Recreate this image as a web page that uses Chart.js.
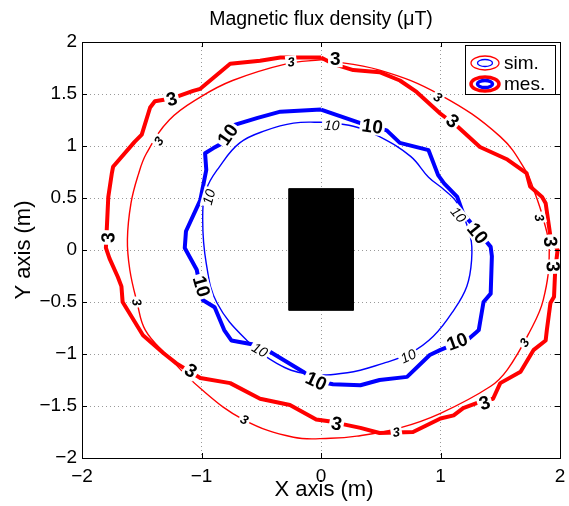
<!DOCTYPE html>
<html>
<head>
<meta charset="utf-8">
<script src="https://cdn.jsdelivr.net/npm/chart.js@4"></script>
<style>
  body { margin: 0; background: #fff; }
  #wrap { width: 569px; height: 506px; }
</style>
</head>
<body>
<div id="wrap"><canvas id="myChart"></canvas></div>
<script>
// 3 uT contour, simulated (thin red)
let sim3X = [0, -0.29, -0.74, -1.01, -1.27, -1.46, -1.53, -1.59, -1.62, -1.60, -1.54, -1.47, -1.29, -1.01, -0.65, -0.23, 0.08, 0.30, 0.66, 1.00, 1.42, 1.56, 1.74, 1.86, 1.91, 1.86, 1.78, 1.72, 1.50, 1.00, 0.49, 0];
let sim3Y = [1.83, 1.79, 1.63, 1.47, 1.25, 0.93, 0.72, 0.45, 0.10, -0.19, -0.50, -0.77, -1.01, -1.33, -1.63, -1.80, -1.81, -1.79, -1.71, -1.57, -1.31, -1.15, -0.80, -0.48, 0, 0.30, 0.58, 0.75, 1.09, 1.49, 1.73, 1.83];

// 3 uT contour, measured (thick red)
let mes3X = [0, -0.34, -0.51, -0.76, -1.01, -1.07, -1.24, -1.39, -1.43, -1.50, -1.56, -1.74, -1.75, -1.78, -1.80, -1.77, -1.70, -1.67, -1.66, -1.49, -1.32, -1.21, -1.01, -0.76, -0.51, -0.26, -0.04, 0.08, 0.33, 0.49, 0.77, 1.00, 1.11, 1.19, 1.33, 1.44, 1.50, 1.67, 1.78, 1.88, 1.89, 1.92, 1.95, 1.96, 1.98, 1.92, 1.88, 1.85, 1.75, 1.72, 1.56, 1.33, 1.14, 1.00, 0.80, 0.66, 0.49, 0.27, 0.10, 0];
let mes3Y = [1.85, 1.85, 1.82, 1.79, 1.55, 1.53, 1.46, 1.43, 1.37, 1.11, 1.04, 0.80, 0.74, 0.51, 0.02, -0.08, -0.26, -0.35, -0.50, -0.82, -0.99, -1.09, -1.23, -1.28, -1.43, -1.49, -1.63, -1.65, -1.71, -1.76, -1.75, -1.62, -1.59, -1.52, -1.46, -1.43, -1.28, -1.17, -0.96, -0.87, -0.77, -0.51, -0.45, -0.19, 0, 0.13, 0.45, 0.51, 0.61, 0.74, 0.87, 0.99, 1.19, 1.31, 1.52, 1.63, 1.71, 1.73, 1.79, 1.85];

// 10 uT contour, simulated (thin blue)
let sim10X = [0, -0.23, -0.46, -0.68, -0.85, -0.96, -0.99, -0.96, -0.87, -0.62, -0.37, -0.12, 0.22, 0.52, 0.75, 0.94, 1.11, 1.22, 1.26, 1.25, 1.14, 1.03, 0.90, 0.75, 0.49, 0.27, 0];
let sim10Y = [1.23, 1.22, 1.15, 1.03, 0.80, 0.58, 0.29, -0.13, -0.51, -0.87, -1.09, -1.19, -1.18, -1.09, -0.99, -0.83, -0.58, -0.35, -0.10, 0.13, 0.45, 0.58, 0.70, 0.90, 1.09, 1.19, 1.23];

// 10 uT contour, measured (thick blue)
let mes10X = [0, -0.34, -0.53, -0.73, -0.82, -0.90, -0.97, -0.96, -1.01, -1.13, -1.14, -1.04, -0.99, -0.89, -0.81, -0.75, -0.51, -0.15, -0.04, 0.10, 0.33, 0.49, 0.72, 0.91, 1.00, 1.17, 1.22, 1.30, 1.32, 1.36, 1.42, 1.43, 1.42, 1.19, 1.14, 1.03, 0.98, 0.90, 0.66, 0.55, 0.33, 0];
let mes10Y = [1.35, 1.33, 1.27, 1.20, 1.03, 0.98, 0.93, 0.77, 0.48, 0.18, 0.02, -0.19, -0.48, -0.55, -0.77, -0.87, -0.92, -1.17, -1.26, -1.29, -1.30, -1.25, -1.22, -1.01, -0.96, -0.88, -0.87, -0.79, -0.77, -0.50, -0.42, -0.06, 0.03, 0.35, 0.51, 0.64, 0.72, 0.96, 1.03, 1.15, 1.22, 1.35];

// source block (black rectangle)
let blockX = [-0.27, 0.27, 0.27, -0.27, -0.27];
let blockY = [0.59, 0.59, -0.58, -0.58, 0.59];

// axis ticks
let xTicks = [-2, -1, 0, 1, 2];
let yTicks = [-2, -1.5, -1, -0.5, 0, 0.5, 1, 1.5, 2];

// contour label anchors: [x, y, angle in degrees]
let mes3Labels = [[0.12, 1.84, 0], [-1.25, 1.45, -15], [-1.78, 0.12, -88], [-1.09, -1.16, 33], [0.13, -1.67, 11], [1.37, -1.47, -18], [1.92, 0.08, 85], [1.94, -0.16, 88], [1.10, 1.24, 39]];
let sim3Labels = [[-0.25, 1.81, -7], [-1.36, 1.05, -55], [-1.54, -0.50, 78], [-0.64, -1.63, 26], [0.63, -1.75, -8], [1.70, -0.89, -56], [1.83, 0.31, 76], [0.98, 1.47, 32]];
let mes10Labels = [[-0.78, 1.11, -55], [0.43, 1.19, 8], [1.31, 0.16, 51], [1.14, -0.88, -20], [-0.04, -1.26, 25], [-1.00, -0.35, 74]];
let sim10Labels = [[0.09, 1.20, 3], [-0.94, 0.51, -75], [1.15, 0.34, 50], [0.73, -1.02, -25], [-0.51, -0.96, 30]];

const FONT = "'Liberation Sans', Arial, Helvetica, sans-serif";

function pts(xs, ys) {
  return xs.map((x, i) => ({ x: x, y: ys[i] }));
}

function fmt(v) {
  return String(v).replace('-', '\u2212');
}

// contour labels, MATLAB clabel style
const contourLabels = {
  id: 'contourLabels',
  afterDatasetsDraw(chart) {
    const ctx = chart.ctx;
    const xs = chart.scales.x, ys = chart.scales.y;
    function put(list, text, font) {
      list.forEach(l => {
        ctx.save();
        ctx.translate(xs.getPixelForValue(l[0]), ys.getPixelForValue(l[1]));
        ctx.rotate(l[2] * Math.PI / 180);
        ctx.font = font;
        ctx.textAlign = 'center';
        ctx.textBaseline = 'middle';
        const w = ctx.measureText(text).width;
        const h = parseInt(font.match(/(\d+)px/)[1]) * 0.8;
        ctx.fillStyle = '#fff';
        ctx.fillRect(-w / 2 - 2, -h / 2 - 1, w + 4, h + 2);
        ctx.fillStyle = '#000';
        ctx.fillText(text, 0, 1);
        ctx.restore();
      });
    }
    put(sim3Labels, '3', 'italic bold 13px ' + FONT);
    put(sim10Labels, '10', 'italic 14px ' + FONT);
    put(mes3Labels, '3', 'bold 19px ' + FONT);
    put(mes10Labels, '10', 'bold 19px ' + FONT);
  }
};

// frame, inner ticks, titles and legend
const frame = {
  id: 'frame',
  afterDraw(chart) {
    const ctx = chart.ctx;
    const a = chart.chartArea;
    const xs = chart.scales.x, ys = chart.scales.y;
    ctx.save();
    ctx.strokeStyle = '#000';
    ctx.lineWidth = 1;
    ctx.strokeRect(a.left + 0.5, a.top + 0.5, a.right - a.left, a.bottom - a.top);
    ctx.beginPath();
    xTicks.forEach(v => {
      const p = Math.round(xs.getPixelForValue(v)) + 0.5;
      ctx.moveTo(p, a.bottom); ctx.lineTo(p, a.bottom - 5);
      ctx.moveTo(p, a.top); ctx.lineTo(p, a.top + 5);
    });
    yTicks.forEach(v => {
      const p = Math.round(ys.getPixelForValue(v)) + 0.5;
      ctx.moveTo(a.left, p); ctx.lineTo(a.left + 5, p);
      ctx.moveTo(a.right, p); ctx.lineTo(a.right - 5, p);
    });
    ctx.stroke();

    // titles
    ctx.fillStyle = '#000';
    ctx.textAlign = 'center';
    ctx.textBaseline = 'alphabetic';
    ctx.font = '19.5px ' + FONT;
    ctx.fillText('Magnetic flux density (\u03bcT)', (a.left + a.right) / 2, 25);
    ctx.font = '22px ' + FONT;
    ctx.fillText('X axis (m)', (a.left + a.right) / 2 + 3, 496);
    ctx.save();
    ctx.translate(30, 250);
    ctx.rotate(-Math.PI / 2);
    ctx.fillText('Y axis (m)', 0, 0);
    ctx.restore();

    // legend
    const lx = 465.5, ly = 45.5, lw = 90, lh = 49;
    ctx.fillStyle = '#fff';
    ctx.fillRect(lx, ly, lw, lh);
    ctx.strokeStyle = '#000';
    ctx.lineWidth = 1;
    ctx.strokeRect(lx, ly, lw, lh);
    const rows = [['sim.', 63, 1.3], ['mes.', 84, 3.5]];
    rows.forEach(r => {
      ctx.lineWidth = r[2];
      ctx.strokeStyle = '#ff0000';
      ctx.beginPath();
      ctx.ellipse(485, r[1], 14, 7, 0, 0, Math.PI * 2);
      ctx.stroke();
      ctx.strokeStyle = '#0000ff';
      ctx.beginPath();
      ctx.ellipse(485, r[1], 7.5, 3.5, 0, 0, Math.PI * 2);
      ctx.stroke();
      ctx.fillStyle = '#000';
      ctx.font = '19px ' + FONT;
      ctx.textAlign = 'left';
      ctx.textBaseline = 'middle';
      ctx.fillText(r[0], 504, r[1] + 1);
    });
    ctx.restore();
  }
};

new Chart("myChart", {
  type: "scatter",
  data: {
    datasets: [
      { data: pts(blockX, blockY), showLine: true, fill: 'shape', backgroundColor: '#000', borderColor: '#000', borderWidth: 1, pointRadius: 0, tension: 0 },
      { data: pts(sim3X, sim3Y), showLine: true, borderColor: '#ff0000', borderWidth: 1.4, pointRadius: 0, tension: 0.4 },
      { data: pts(sim10X, sim10Y), showLine: true, borderColor: '#0000ff', borderWidth: 1.4, pointRadius: 0, tension: 0.4 },
      { data: pts(mes3X, mes3Y), showLine: true, borderColor: '#ff0000', borderWidth: 4, pointRadius: 0, tension: 0, borderJoinStyle: 'round' },
      { data: pts(mes10X, mes10Y), showLine: true, borderColor: '#0000ff', borderWidth: 4, pointRadius: 0, tension: 0, borderJoinStyle: 'round' }
    ]
  },
  options: {
    responsive: true,
    maintainAspectRatio: false,
    animation: false,
    layout: { padding: { left: 0, top: 42, right: 9, bottom: 0 } },
    plugins: {
      legend: { display: false },
      tooltip: { enabled: false }
    },
    scales: {
      x: {
        min: -2, max: 2,
        afterFit(s) { s.height = 48; s.paddingLeft = 0; s.paddingRight = 0; },
        afterBuildTicks(s) { s.ticks = xTicks.map(v => ({ value: v })); },
        ticks: { callback: v => fmt(v), font: { size: 19, family: FONT }, color: '#000', padding: 7, maxRotation: 0 },
        grid: { color: '#999', drawTicks: false },
        border: { display: false, dash: [1, 3] }
      },
      y: {
        min: -2, max: 2,
        afterFit(s) { s.width = 82; s.paddingTop = 0; s.paddingBottom = 0; },
        afterBuildTicks(s) { s.ticks = yTicks.map(v => ({ value: v })); },
        ticks: { callback: v => fmt(v), font: { size: 19, family: FONT }, color: '#000', padding: 5 },
        grid: { color: '#999', drawTicks: false },
        border: { display: false, dash: [1, 3] }
      }
    }
  },
  plugins: [contourLabels, frame]
});
</script>
</body>
</html>
